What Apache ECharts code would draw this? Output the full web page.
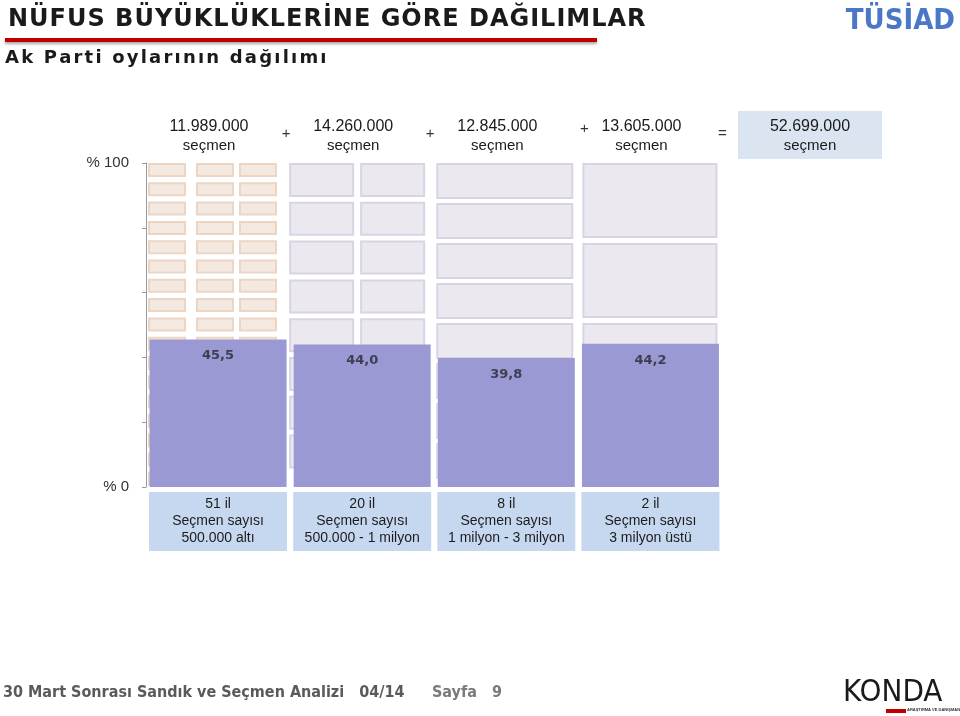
<!DOCTYPE html>
<html><head><meta charset="utf-8">
<script src="https://cdn.jsdelivr.net/npm/echarts@6/dist/echarts.min.js"></script>
<style>html,body{margin:0;padding:0;background:#fff}#c{width:960px;height:716px}</style>
</head><body><div id="c"></div>
<script>
// ---- data ----
const categories = ['51 il', '20 il', '8 il', '2 il'];
const rangeLabels = ['500.000 altı', '500.000 - 1 milyon', '1 milyon - 3 milyon', '3 milyon üstü'];
const voterCounts = ['11.989.000', '14.260.000', '12.845.000', '13.605.000'];
const voterTotal = '52.699.000';
const akpShare = [45.5, 44.0, 39.8, 44.2];
const yTickLabels = { 0: '% 0', 100: '% 100' };
const joiners = ['+', '+', '+', '='];
const titleText = 'NÜFUS BÜYÜKLÜKLERİNE GÖRE DAĞILIMLAR';
const subtitleText = 'Ak Parti oylarının dağılımı';

// ---- style for the pictogram cells behind the bars ----
const iconStyle = [
  { xs: [2, 50, 93], w: 38, h: 14, step: 19.3, fill: '#f4e9e1', stroke: '#ecd6c3' },
  { xs: [-1, 70], w: 65, h: 34, step: 38.8, fill: '#ebe8ef', stroke: '#d9d4e3' },
  { xs: [2], w: 137, h: 36, step: 40, fill: '#ebe8ef', stroke: '#d9d4e3' },
  { xs: [4], w: 135, h: 75, step: 80, fill: '#ebe8ef', stroke: '#d9d4e3' }
];
const joinerShift = [[-4, 0], [-4, 0], [6, -5], [0, 0]];

const SANS = "'Liberation Sans', Arial, sans-serif";
const NARROW = "'Liberation Sans Narrow', 'DejaVu Sans Condensed', sans-serif";

// letter-spaced text: each character is its own rich token with right padding
function spaced(str) {
  return Array.from(str).map(ch => '{c|' + ch + '}').join('');
}

function renderIcons(params, api) {
  const i = api.value(0);
  const s = iconStyle[i];
  const bw = api.size([1, 0])[0];
  const p0 = api.coord([i, 0]);
  const p100 = api.coord([i, 100]);
  const left = p0[0] - bw / 2;
  const children = [];
  for (let y = p100[1]; y + s.h <= p0[1] + 1; y += s.step) {
    s.xs.forEach(dx => children.push({
      type: 'rect',
      shape: { x: left + dx + 1, y: y + 1, width: s.w - 2, height: s.h - 2 },
      style: { fill: s.fill, stroke: s.stroke, lineWidth: 2 }
    }));
  }
  return { type: 'group', children };
}

const chart = echarts.init(document.getElementById('c'), null, { renderer: 'canvas' });

const staticGraphics = [
  { type: 'text', left: 8, top: 8, style: {
      text: spaced(titleText), fill: '#1a1a1a',
      rich: { c: { fontFamily: "'DejaVu Sans', sans-serif", fontWeight: 'bold', fontSize: 24, padding: [0, 1.0, 0, 0], fill: '#1a1a1a' } } } },
  { type: 'rect', shape: { x: 5, y: 38, width: 592, height: 4 }, style: { fill: '#c00000', shadowColor: 'rgba(0,0,0,0.35)', shadowBlur: 3, shadowOffsetY: 2 } },
  { type: 'text', left: 5, top: 49, style: {
      text: spaced(subtitleText), fill: '#1a1a1a',
      rich: { c: { fontFamily: "'DejaVu Sans', sans-serif", fontWeight: 'bold', fontSize: 18, padding: [0, 2.2, 0, 0], fill: '#1a1a1a' } } } },
  { type: 'text', right: 5, top: 7, style: { text: 'TÜSİAD', font: "bold 29px 'DejaVu Sans Condensed', 'DejaVu Sans', sans-serif", fill: '#4a77c8' } },
  { type: 'rect', shape: { x: 738, y: 111, width: 144, height: 48 }, style: { fill: '#dbe4f1' } },
  { type: 'text', x: 810, y: 127, style: { text: voterTotal, font: '16px ' + SANS, fill: '#1a1a1a', align: 'center', verticalAlign: 'middle' } },
  { type: 'text', x: 810, y: 146, style: { text: 'seçmen', font: '15px ' + SANS, fill: '#1a1a1a', align: 'center', verticalAlign: 'middle' } },
  { type: 'text', left: 3, top: 685, style: { text: '30 Mart Sonrası Sandık ve Seçmen Analizi   04/14', font: 'bold 16px ' + NARROW, fill: '#5a5a5a' } },
  { type: 'text', left: 432, top: 685, style: { text: 'Sayfa', font: 'bold 16px ' + NARROW, fill: '#7a7a7a' } },
  { type: 'text', left: 492, top: 685, style: { text: '9', font: 'bold 16px ' + NARROW, fill: '#7a7a7a' } },
  { type: 'text', left: 843, top: 677, style: { text: 'KONDA', font: '31px ' + NARROW, fill: '#1a1a1a' } },
  { type: 'rect', shape: { x: 886, y: 709, width: 20, height: 4 }, style: { fill: '#c00000' } },
  { type: 'text', left: 907, top: 708, style: { text: 'ARAŞTIRMA VE DANIŞMANLIK', font: 'bold 4px ' + SANS, fill: '#333' } }
];

const option = {
  backgroundColor: '#ffffff',
  animation: false,
  grid: { left: 146, right: 237.5, top: 163, bottom: 229 },
  xAxis: [
    {
      type: 'category', data: categories, position: 'bottom',
      axisLine: { show: false }, axisTick: { show: false },
      axisLabel: {
        interval: 0, margin: 5,
        formatter: (v, idx) => v + '\nSeçmen sayısı\n' + rangeLabels[idx],
        backgroundColor: '#c6d8ef', width: 138, align: 'center',
        lineHeight: 17, padding: [4, 0, 4, 0],
        fontSize: 14, color: '#1c1c1c', fontFamily: SANS
      }
    },
    {
      type: 'category', data: voterCounts, position: 'top',
      axisLine: { show: false }, axisTick: { show: false },
      axisLabel: {
        interval: 0, margin: 8, padding: [0, 18, 0, 0],
        formatter: v => '{n|' + v + '}\n{s|seçmen}',
        rich: {
          n: { fontSize: 16, lineHeight: 19, color: '#1a1a1a', fontFamily: SANS },
          s: { fontSize: 15, lineHeight: 19, color: '#1a1a1a', fontFamily: SANS }
        }
      }
    }
  ],
  yAxis: {
    type: 'value', min: 0, max: 100, interval: 20,
    splitLine: { show: false },
    axisLine: { show: true, lineStyle: { color: '#9a9a9a', width: 1 } },
    axisTick: { show: true, length: 4, lineStyle: { color: '#9a9a9a' } },
    axisLabel: {
      margin: 17, fontSize: 15, color: '#333', fontFamily: SANS,
      formatter: v => yTickLabels[v] || ''
    }
  },
  series: [
    {
      type: 'custom', xAxisIndex: 0, renderItem: renderIcons, z: 1, silent: true,
      encode: { x: 0, y: 1 },
      data: categories.map((c, i) => [i, 100])
    },
    {
      type: 'bar', xAxisIndex: 0, data: akpShare, barWidth: 137, z: 3,
      itemStyle: { color: '#9a99d4' },
      label: {
        show: true, position: 'insideTop', distance: 10,
        formatter: p => p.value.toFixed(1).replace('.', ','),
        fontFamily: "'DejaVu Sans', sans-serif", fontWeight: 'bold', fontSize: 13, color: '#3e3e50'
      }
    }
  ],
  graphic: staticGraphics
};
chart.setOption(option);

// joining signs between the voter counts, placed on the category boundaries
const joinGraphics = joiners.map((j, i) => {
  const a = chart.convertToPixel({ xAxisIndex: 0 }, i);
  const b = i + 1 < categories.length ? chart.convertToPixel({ xAxisIndex: 0 }, i + 1) : a + (a - chart.convertToPixel({ xAxisIndex: 0 }, i - 1));
  return { type: 'text', x: (a + b) / 2 + joinerShift[i][0], y: 134 + joinerShift[i][1], style: { text: j, font: '15px ' + SANS, fill: '#333', align: 'center', verticalAlign: 'middle' } };
});
chart.setOption({ graphic: staticGraphics.concat(joinGraphics) });
</script>
</body></html>
